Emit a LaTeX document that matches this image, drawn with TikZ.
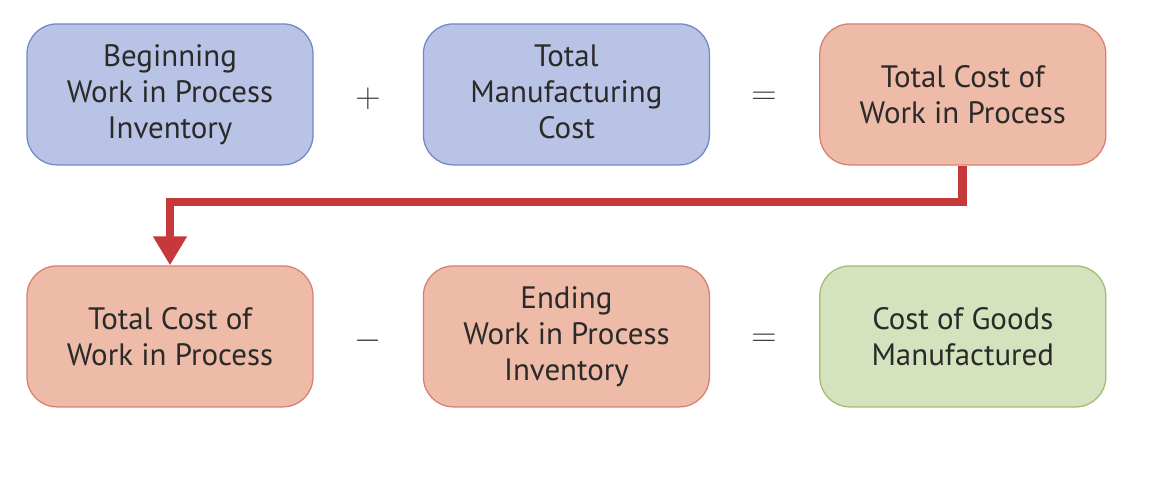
\documentclass[tikz,border=0pt]{standalone}
\usepackage{fontspec}
\setmainfont{PT Sans}
\usetikzlibrary{arrows.meta}
\definecolor{bluefill}{HTML}{B9C3E6}
\definecolor{blueline}{HTML}{7088C8}
\definecolor{redfill}{HTML}{EDBBA7}
\definecolor{redline}{HTML}{D8806F}
\definecolor{greenfill}{HTML}{D4E2BD}
\definecolor{greenline}{HTML}{9EBC72}
\definecolor{flowred}{HTML}{C6393B}
\definecolor{txt}{HTML}{2A2A2A}
\begin{document}
\begin{tikzpicture}[font=\fontsize{22}{25.6}\selectfont, text=txt,
    costbox/.style={draw, line width=0.9pt, rounded corners=0.75cm,
      minimum width=7.15cm, minimum height=3.525cm, inner sep=0pt,
      align=center},
    inbox/.style={costbox, fill=bluefill, draw=blueline},
    wipbox/.style={costbox, fill=redfill, draw=redline},
    outbox/.style={costbox, fill=greenfill, draw=greenline},
    oper/.style={font=\fontsize{30}{30}\selectfont, text=black!75},
    flow/.style={draw=flowred, line width=0.22cm, line join=miter,
      -{Triangle[width=0.8cm, length=0.72cm]}}]
      \useasboundingbox (0,0) rectangle (28.9,-12.1);
      \def\xa{4.25}
      \def\xb{14.16}
      \def\xc{24.07}
      \def\ya{-2.36}
      \def\yb{-8.41}
      % Ligne du haut
      \node[inbox] (bwip) at (\xa,\ya) {Beginning\\Work in Process\\Inventory};
      \node[inbox] (tmc) at (\xb,\ya) {Total\\Manufacturing\\Cost\vphantom{y}};
      \node[wipbox] (tcwip) at (\xc,\ya) {Total Cost of\\Work in Process};
      \node[oper] (plus) at (9.2,\ya-0.1) {$+$};
      \node[oper] (eqa) at (19.1,\ya-0.1) {$=$};
      % Ligne du bas
      \node[wipbox] (tcwipb) at (\xa,\yb) {Total Cost of\\Work in Process};
      \node[wipbox] (ewip) at (\xb,\yb) {Ending\\Work in Process\\Inventory};
      \node[outbox] (cogm) at (\xc,\yb) {Cost of Goods\\Manufactured};
      \node[oper] (minus) at (9.2,\yb-0.1) {$-$};
      \node[oper] (eqb) at (19.1,\yb-0.1) {$=$};
      % Report
      \coordinate (bend) at (0,-5.05);
      \draw[flow] (tcwip.south) -- (tcwip.south |- bend) -| (tcwipb.north);
\end{tikzpicture}
\end{document}
